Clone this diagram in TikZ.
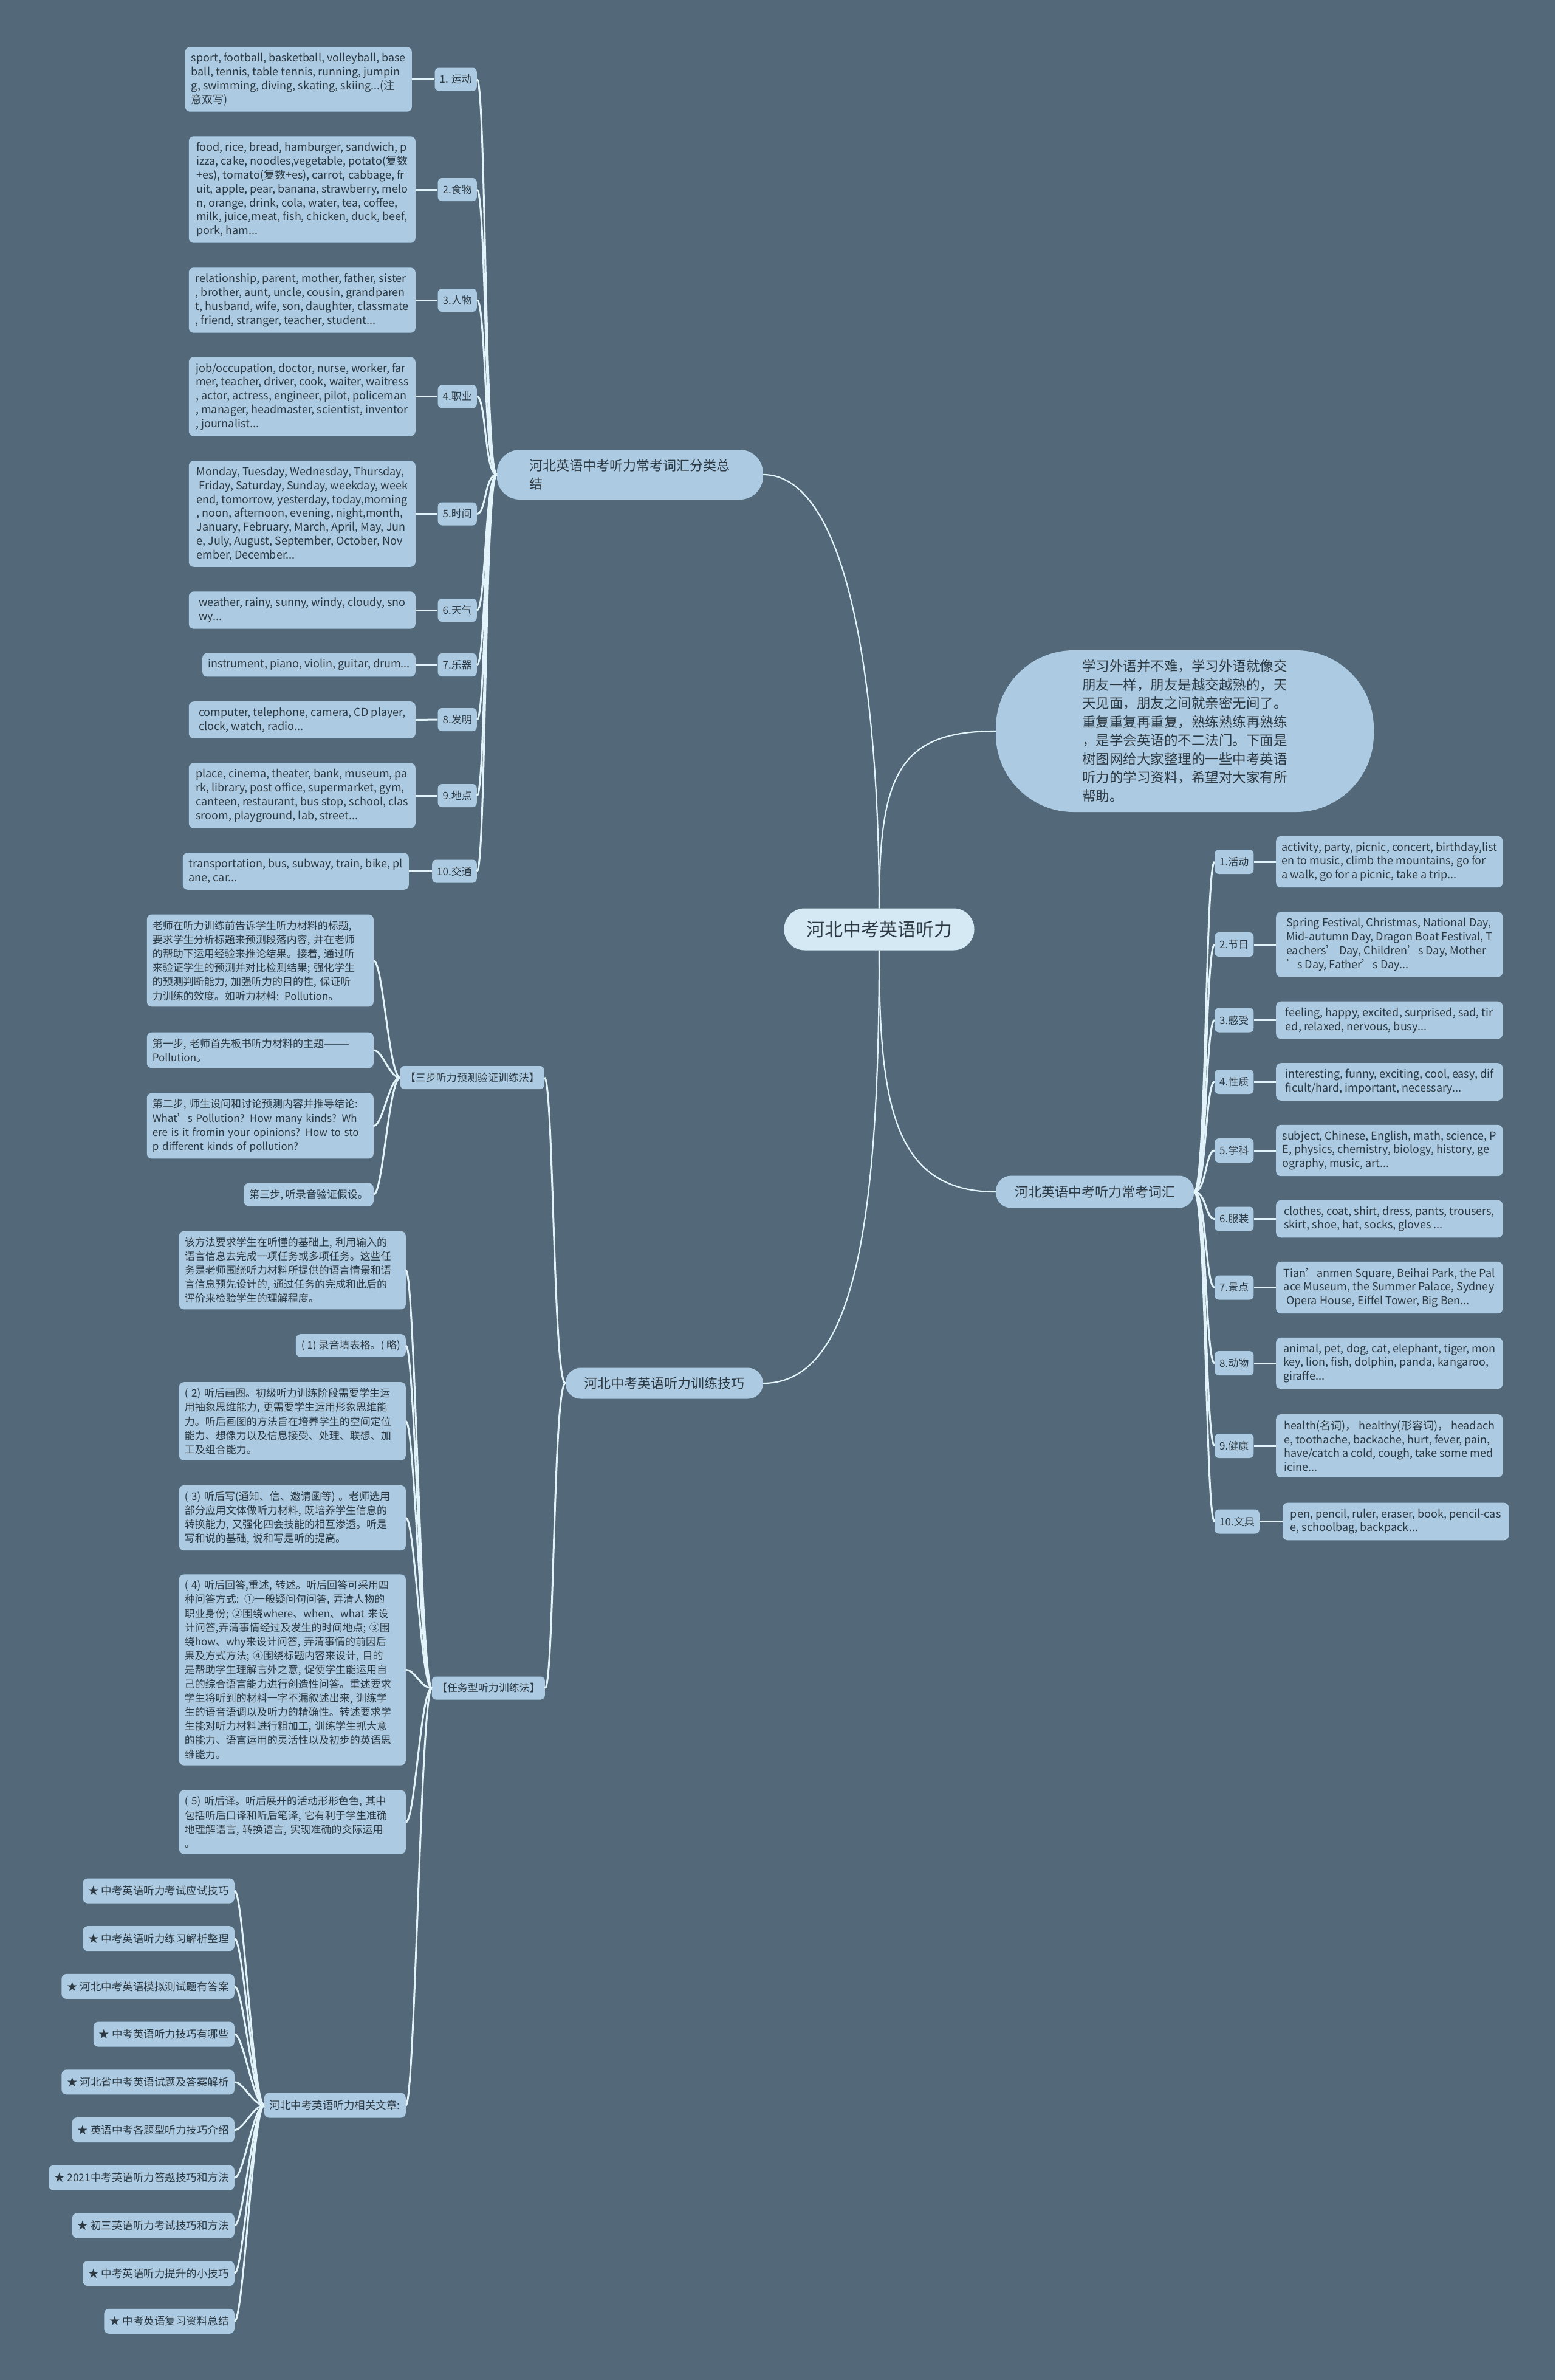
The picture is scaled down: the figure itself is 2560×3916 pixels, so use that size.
\documentclass[tikz,border=0pt]{standalone}
\usepackage{fontspec}
\setmainfont{Noto Sans CJK SC}
\definecolor{bgslate}{RGB}{83,105,121}
\definecolor{boxblue}{RGB}{172,203,226}
\definecolor{rootblue}{RGB}{212,233,244}
\definecolor{inkdark}{RGB}{45,57,66}
\definecolor{linkwhite}{RGB}{226,244,250}
\tikzset{
  every node/.style={text=inkdark},
  link/.style={draw=linkwhite, line width=3pt},
  trunk/.style={draw=linkwhite, line width=2.2pt},
  rootnode/.style={fill=rootblue, rounded corners=34pt, minimum width=313pt, minimum height=69pt, font=\fontsize{30}{36}\selectfont},
  topic/.style={fill=boxblue, rounded corners=25pt, align=left, font=\fontsize{22}{30}\selectfont},
  note/.style={fill=boxblue, rounded corners=128pt, minimum width=622pt, minimum height=266pt, align=left, font=\fontsize{22.5}{30.5}\selectfont},
  tag/.style={fill=boxblue, rounded corners=7pt, inner xsep=8pt, minimum height=38pt, font=\fontsize{17}{20}\selectfont},
  leaf/.style={fill=boxblue, rounded corners=8pt, align=left, inner xsep=9pt, inner ysep=10pt},
  vocab/.style={leaf, minimum width=373pt, font=\fontsize{18}{22.8}\selectfont},
  method/.style={leaf, font=\fontsize{17}{23.2}\selectfont},
  widemethod/.style={method, text width=355pt},
  article/.style={fill=boxblue, rounded corners=8pt, minimum height=41pt, inner xsep=9pt, font=\fontsize{17.5}{20}\selectfont},
}
\begin{document}
\begin{tikzpicture}[x=1pt, y=-1pt]
  % background
  \fill[bgslate] (0,0) rectangle (2560,3916);
  % centre and main branches
  \node[rootnode] (root) at (1447,1529) {河北中考英语听力};
  \node[note] (intro) at (1950,1203) {学习外语并不难，学习外语就像交\\朋友一样，朋友是越交越熟的，天\\天见面，朋友之间就亲密无间了。\\重复重复再重复，熟练熟练再熟练\\，是学会英语的不二法门。下面是\\树图网给大家整理的一些中考英语\\听力的学习资料，希望对大家有所\\帮助。};
  \node[topic, rounded corners=38pt, minimum width=438pt, minimum height=82pt, anchor=east] (wordsum) at (1256,781) {河北英语中考听力常考词汇分类总\\结};
  \node[topic, minimum width=326pt, minimum height=53pt, anchor=west] (wordlist) at (1639,1961) {河北英语中考听力常考词汇};
  \node[topic, minimum width=325pt, minimum height=51pt, anchor=east] (skills) at (1256,2276) {河北中考英语听力训练技巧};

  % left vocabulary
  \node[tag, anchor=east] (lt1) at (785,130.5) {1. 运动};
  \node[tag, anchor=east] (lt2) at (785,312) {2.食物};
  \node[tag, anchor=east] (lt3) at (785,494) {3.人物};
  \node[tag, anchor=east] (lt4) at (785,652.5) {4.职业};
  \node[tag, anchor=east] (lt5) at (785,845.5) {5.时间};
  \node[tag, anchor=east] (lt6) at (785,1004) {6.天气};
  \node[tag, anchor=east] (lt7) at (785,1094) {7.乐器};
  \node[tag, anchor=east] (lt8) at (785,1184) {8.发明};
  \node[tag, anchor=east] (lt9) at (785,1309) {9.地点};
  \node[tag, anchor=east] (lt10) at (785,1433.5) {10.交通};
  \node[vocab, anchor=east] (lv1) at (678,130.5) {sport, football, basketball, volleyball, base\\ball, tennis, table tennis, running, jumpin\\g, swimming, diving, skating, skiing...(注\\意双写)};
  \node[vocab, anchor=east] (lv2) at (684,312) {food, rice, bread, hamburger, sandwich, p\\izza, cake, noodles,vegetable, potato(复数\\+es), tomato(复数+es), carrot, cabbage, fr\\uit, apple, pear, banana, strawberry, melo\\n, orange, drink, cola, water, tea, coffee,\\milk, juice,meat, fish, chicken, duck, beef,\\pork, ham...};
  \node[vocab, anchor=east] (lv3) at (684,494) {relationship, parent, mother, father, sister\\, brother, aunt, uncle, cousin, grandparen\\t, husband, wife, son, daughter, classmate\\, friend, stranger, teacher, student...};
  \node[vocab, anchor=east] (lv4) at (684,652.5) {job/occupation, doctor, nurse, worker, far\\mer, teacher, driver, cook, waiter, waitress\\, actor, actress, engineer, pilot, policeman\\, manager, headmaster, scientist, inventor\\, journalist...};
  \node[vocab, anchor=east] (lv5) at (684,845.5) {Monday, Tuesday, Wednesday, Thursday,\\\ Friday, Saturday, Sunday, weekday, week\\end, tomorrow, yesterday, today,morning\\, noon, afternoon, evening, night,month,\\January, February, March, April, May, Jun\\e, July, August, September, October, Nov\\ember, December...};
  \node[vocab, anchor=east] (lv6) at (684,1004) {weather, rainy, sunny, windy, cloudy, sno\\wy...};
  \node[leaf, font=\fontsize{18}{22.8}\selectfont, anchor=east] (lv7) at (684,1094) {instrument, piano, violin, guitar, drum...};
  \node[vocab, anchor=east] (lv8) at (684,1184.5) {computer, telephone, camera, CD player,\\clock, watch, radio...};
  \node[vocab, anchor=east] (lv9) at (684,1309) {place, cinema, theater, bank, museum, pa\\rk, library, post office, supermarket, gym,\\canteen, restaurant, bus stop, school, clas\\sroom, playground, lab, street...};
  \node[vocab, minimum width=372pt, anchor=east] (lv10) at (673,1433.5) {transportation, bus, subway, train, bike, pl\\ane, car...};

  % right vocabulary
  \node[tag, minimum height=40pt, anchor=west] (rt1) at (1999,1418) {1.活动};
  \node[tag, minimum height=40pt, anchor=west] (rt2) at (1999,1554) {2.节日};
  \node[tag, minimum height=40pt, anchor=west] (rt3) at (1999,1678.5) {3.感受};
  \node[tag, minimum height=40pt, anchor=west] (rt4) at (1999,1780) {4.性质};
  \node[tag, minimum height=40pt, anchor=west] (rt5) at (1999,1893) {5.学科};
  \node[tag, minimum height=40pt, anchor=west] (rt6) at (1999,2005.5) {6.服装};
  \node[tag, minimum height=40pt, anchor=west] (rt7) at (1999,2118.5) {7.景点};
  \node[tag, minimum height=40pt, anchor=west] (rt8) at (1999,2243) {8.动物};
  \node[tag, minimum height=40pt, anchor=west] (rt9) at (1999,2379) {9.健康};
  \node[tag, minimum height=40pt, anchor=west] (rt10) at (1999,2503.5) {10.文具};
  \node[vocab, anchor=west] (rv1) at (2100,1418) {activity, party, picnic, concert, birthday,list\\en to music, climb the mountains, go for\\a walk, go for a picnic, take a trip...};
  \node[vocab, anchor=west] (rv2) at (2100,1554) {Spring Festival, Christmas, National Day,\\Mid-autumn Day, Dragon Boat Festival, T\\eachers’ Day, Children’s Day, Mother\\’s Day, Father’s Day...};
  \node[vocab, anchor=west] (rv3) at (2100,1678.5) {feeling, happy, excited, surprised, sad, tir\\ed, relaxed, nervous, busy...};
  \node[vocab, anchor=west] (rv4) at (2100,1780) {interesting, funny, exciting, cool, easy, dif\\ficult/hard, important, necessary...};
  \node[vocab, anchor=west] (rv5) at (2100,1893) {subject, Chinese, English, math, science, P\\E, physics, chemistry, biology, history, ge\\ography, music, art...};
  \node[vocab, anchor=west] (rv6) at (2100,2005.5) {clothes, coat, shirt, dress, pants, trousers,\\skirt, shoe, hat, socks, gloves ...};
  \node[vocab, anchor=west] (rv7) at (2100,2118.5) {Tian’anmen Square, Beihai Park, the Pal\\ace Museum, the Summer Palace, Sydney\\\ Opera House, Eiffel Tower, Big Ben...};
  \node[vocab, anchor=west] (rv8) at (2100,2243) {animal, pet, dog, cat, elephant, tiger, mon\\key, lion, fish, dolphin, panda, kangaroo,\\giraffe...};
  \node[vocab, anchor=west] (rv9) at (2100,2379) {health(名词)，\ healthy(形容词)，\ headach\\e, toothache, backache, hurt, fever, pain,\\have/catch a cold, cough, take some med\\icine...};
  \node[vocab, minimum width=372pt, anchor=west] (rv10) at (2111,2503.5) {pen, pencil, ruler, eraser, book, pencil-cas\\e, schoolbag, backpack...};

  % three-step method
  \node[tag, anchor=east] (sanbu) at (896,1773) {【三步听力预测验证训练法】};
  \node[widemethod, anchor=east] (stepa) at (615,1580.5) {老师在听力训练前告诉学生听力材料的标题,\\要求学生分析标题来预测段落内容, 并在老师\\的帮助下运用经验来推论结果。接着, 通过听\\来验证学生的预测并对比检测结果; 强化学生\\的预测判断能力, 加强听力的目的性, 保证听\\力训练的效度。如听力材料: Pollution。};
  \node[widemethod, anchor=east] (stepb) at (615,1728) {第一步, 老师首先板书听力材料的主题———\\Pollution。};
  \node[widemethod, anchor=east] (stepc) at (615,1852.5) {第二步, 师生设问和讨论预测内容并推导结论:\\What’s Pollution? How many kinds? Wh\\ere is it fromin your opinions? How to sto\\p different kinds of pollution?};
  \node[method, anchor=east] (stepd) at (615,1965.5) {第三步, 听录音验证假设。};

  % task-based method
  \node[tag, anchor=east] (renwu) at (897,2777.5) {【任务型听力训练法】};
  \node[widemethod, anchor=east] (taske) at (668,2090) {该方法要求学生在听懂的基础上, 利用输入的\\语言信息去完成一项任务或多项任务。这些任\\务是老师围绕听力材料所提供的语言情景和语\\言信息预先设计的, 通过任务的完成和此后的\\评价来检验学生的理解程度。};
  \node[method, anchor=east] (taskf) at (668,2214) {( 1) 录音填表格。( 略)};
  \node[widemethod, anchor=east] (taskg) at (668,2338.5) {( 2) 听后画图。初级听力训练阶段需要学生运\\用抽象思维能力, 更需要学生运用形象思维能\\力。听后画图的方法旨在培养学生的空间定位\\能力、想像力以及信息接受、处理、联想、加\\工及组合能力。};
  \node[widemethod, anchor=east] (taskh) at (668,2497.5) {( 3) 听后写(通知、信、邀请函等) 。老师选用\\部分应用文体做听力材料, 既培养学生信息的\\转换能力, 又强化四会技能的相互渗透。听是\\写和说的基础, 说和写是听的提高。};
  \node[widemethod, anchor=east] (taski) at (668,2747.5) {( 4) 听后回答,重述, 转述。听后回答可采用四\\种问答方式: ①一般疑问句问答, 弄清人物的\\职业身份; ②围绕where、when、what 来设\\计问答,弄清事情经过及发生的时间地点; ③围\\绕how、why来设计问答, 弄清事情的前因后\\果及方式方法; ④围绕标题内容来设计, 目的\\是帮助学生理解言外之意, 促使学生能运用自\\己的综合语言能力进行创造性问答。重述要求\\学生将听到的材料一字不漏叙述出来, 训练学\\生的语音语调以及听力的精确性。转述要求学\\生能对听力材料进行粗加工, 训练学生抓大意\\的能力、语言运用的灵活性以及初步的英语思\\维能力。};
  \node[widemethod, anchor=east] (taskj) at (668,2998) {( 5) 听后译。听后展开的活动形形色色, 其中\\包括听后口译和听后笔译, 它有利于学生准确\\地理解语言, 转换语言, 实现准确的交际运用\\。};
  \node[article, anchor=east] (xiangguan) at (668,3464) {河北中考英语听力相关文章:};

  % related articles
  \foreach \t [count=\i] in {中考英语听力考试应试技巧, 中考英语听力练习解析整理, 河北中考英语模拟测试题有答案, 中考英语听力技巧有哪些, 河北省中考英语试题及答案解析, 英语中考各题型听力技巧介绍, 2021中考英语听力答题技巧和方法, 初三英语听力考试技巧和方法, 中考英语听力提升的小技巧, 中考英语复习资料总结}
    \node[article, anchor=east] (art\i) at (386,{3111+78.7*(\i-1)}) {★ \t};

  % connectors
  \draw[trunk] (root.north) .. controls +(0,-345) and +(144,0) .. (wordsum.east);
  \draw[trunk] (root.north) .. controls +(0,-220) and +(-160,0) .. (intro.west);
  \draw[trunk] (root.south) .. controls +(0,250) and +(-170,0) .. (wordlist.west);
  \draw[trunk] (root.south) .. controls +(0,450) and +(150,0) .. (skills.east);
  \foreach \i in {1,...,10} {
    \draw[link] (lv\i.east) -- (lt\i.west);
    \draw[link] (wordsum.west) .. controls +(-20,0) and +(15,0) .. (lt\i.east);
    \draw[link] (rt\i.east) -- (rv\i.west);
    \draw[link] (wordlist.east) .. controls +(20,0) and +(-15,0) .. (rt\i.west);
    \draw[link] (xiangguan.west) .. controls +(-18,0) and +(15,0) .. (art\i.east);
  }
  \foreach \n in {sanbu, renwu}
    \draw[link] (skills.west) .. controls +(-20,0) and +(15,0) .. (\n.east);
  \foreach \n in {stepa, stepb, stepc, stepd}
    \draw[link] (sanbu.west) .. controls +(-18,0) and +(15,0) .. (\n.east);
  \foreach \n in {taske, taskf, taskg, taskh, taski, taskj, xiangguan}
    \draw[link] (renwu.west) .. controls +(-18,0) and +(15,0) .. (\n.east);
\end{tikzpicture}
\end{document}
